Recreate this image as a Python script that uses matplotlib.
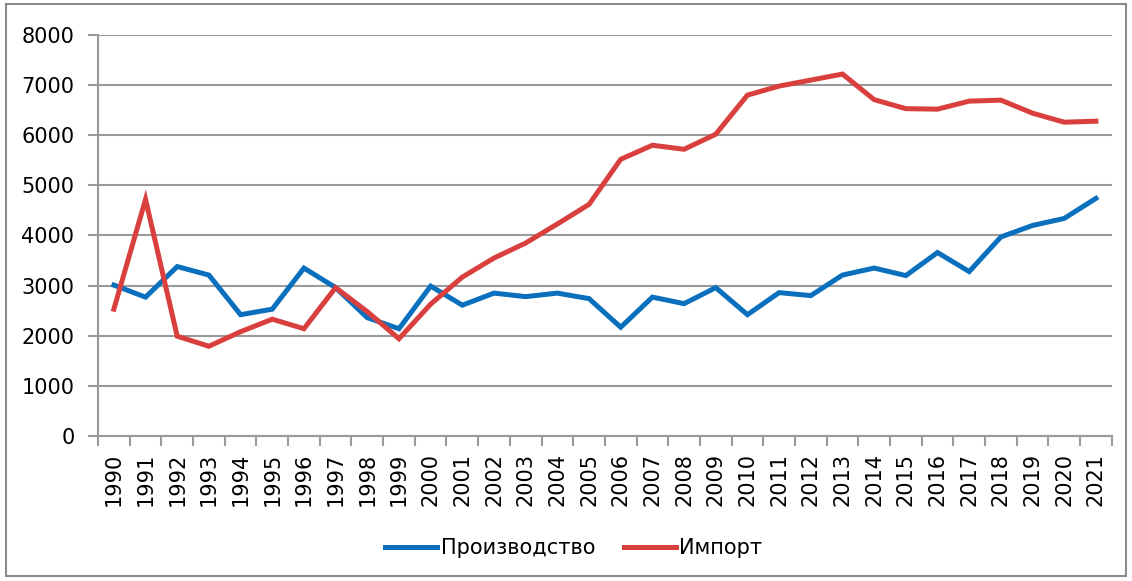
import matplotlib.pyplot as plt
from matplotlib.patches import Rectangle

# years and the two series
years = list(range(1990, 2022))
production = [3010, 2770, 3380, 3210, 2420, 2530, 3350, 2960, 2360, 2140,
              2990, 2610, 2850, 2780, 2850, 2740, 2170, 2770, 2640, 2960,
              2420, 2860, 2800, 3210, 3350, 3200, 3660, 3280, 3970, 4200,
              4340, 4740]
imports = [2530, 4720, 1990, 1790, 2080, 2330, 2140, 2960, 2480, 1940,
           2630, 3170, 3550, 3850, 4230, 4620, 5520, 5800, 5720, 6020,
           6800, 6980, 7100, 7220, 6710, 6530, 6520, 6680, 6700, 6440,
           6260, 6280]
y_ticks = [0, 1000, 2000, 3000, 4000, 5000, 6000, 7000, 8000]

blue = '#0a70bd'
red = '#d9403d'
grid_col = '#9a9a9a'

fig = plt.figure(figsize=(11.32, 5.81), dpi=100)
ax = fig.add_axes([0.0866, 0.2496, 0.8955, 0.6902])

ax.plot(years, production, color=blue, lw=3.6, label='Производство',
        solid_joinstyle='miter')
ax.plot(years, imports, color=red, lw=3.6, label='Импорт',
        solid_joinstyle='miter')

ax.set_ylim(0, 8000)
ax.set_xlim(years[0] - 0.5, years[-1] + 0.5)
ax.set_yticks(y_ticks)
ax.set_yticklabels([str(v) for v in y_ticks], fontsize=15)
ax.yaxis.grid(True, color=grid_col, lw=1.5)
ax.set_axisbelow(True)

# category boundaries get the tick marks, centers get the labels
ax.set_xticks([y - 0.5 for y in years] + [years[-1] + 0.5])
ax.set_xticklabels([])
ax.set_xticks(years, minor=True)
ax.set_xticklabels([str(y) for y in years], minor=True, rotation=90,
                   fontsize=15)
ax.tick_params(axis='x', which='major', length=7, color=grid_col, width=1.5)
ax.tick_params(axis='x', which='minor', length=0, pad=12)
ax.tick_params(axis='y', length=7, color=grid_col, width=1.5, pad=10)

for s in ['top', 'right']:
    ax.spines[s].set_visible(False)
for s in ['left', 'bottom']:
    ax.spines[s].set_color(grid_col)
    ax.spines[s].set_linewidth(1.5)

fig.legend(loc='center', bbox_to_anchor=(0.507, 0.057), ncol=2, frameon=False,
           fontsize=15, handlelength=2.5, handletextpad=0.15,
           columnspacing=1.4)

fig.patches.append(Rectangle((0.005, 0.008), 0.99, 0.985, transform=fig.transFigure,
                             fill=False, edgecolor='#8a8a8a', lw=1.5))

fig.savefig('out.png', dpi=100)
